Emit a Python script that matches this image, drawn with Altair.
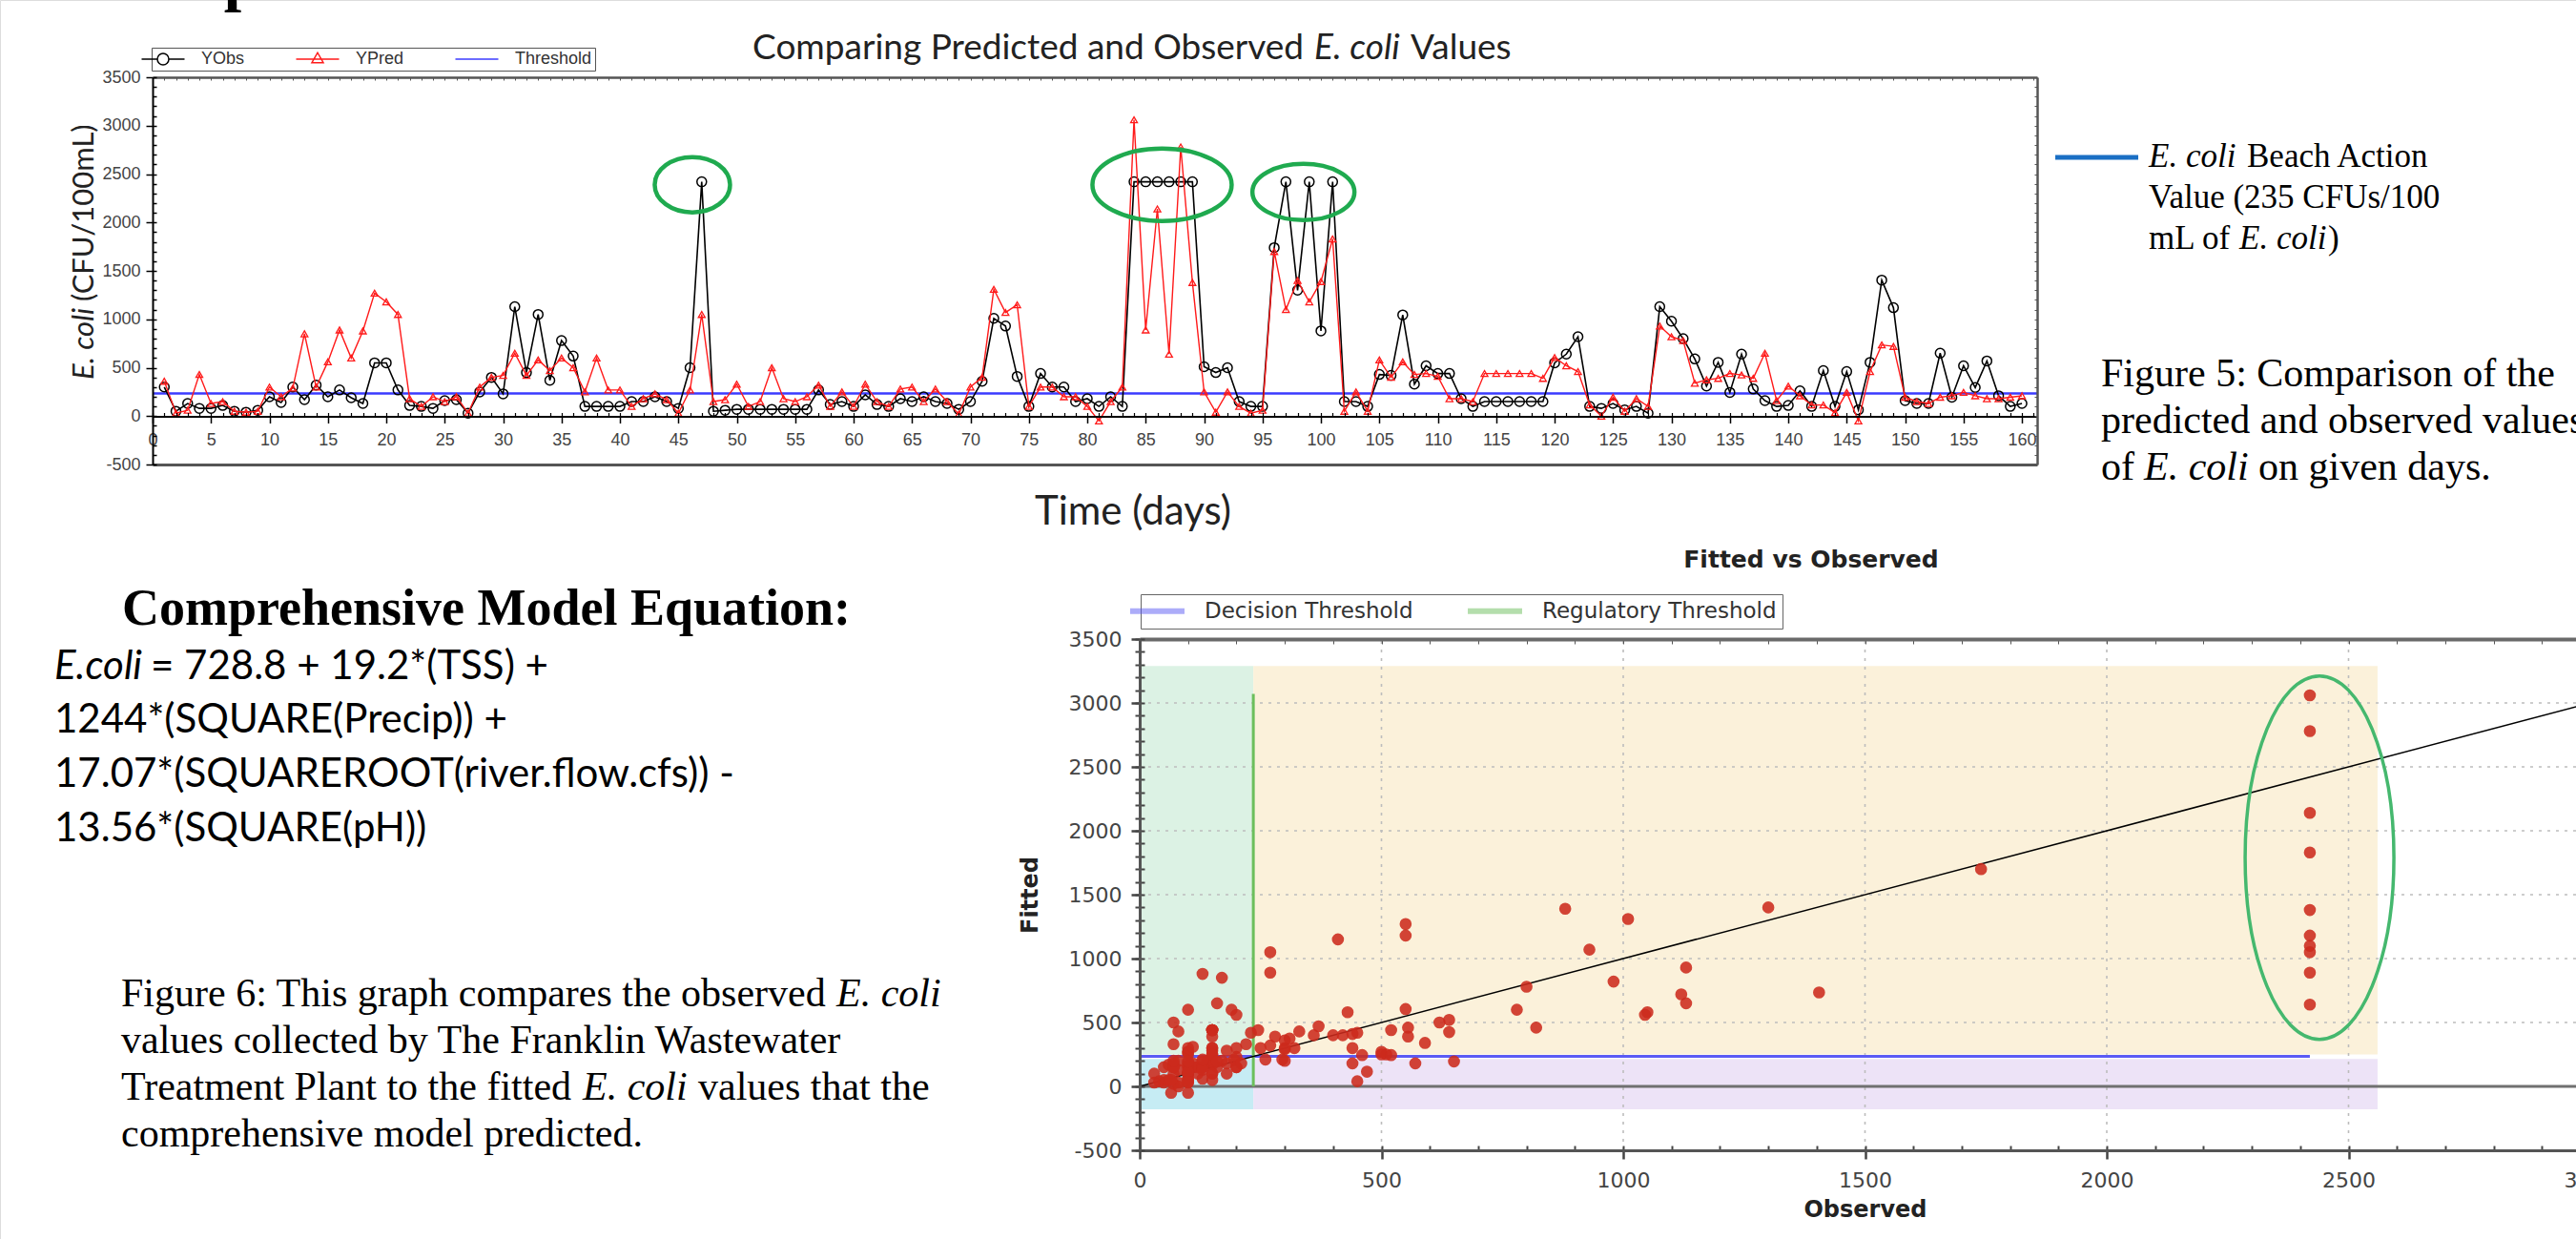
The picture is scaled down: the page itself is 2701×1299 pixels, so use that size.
import altair as alt
import pandas as pd

W, H = 2701, 1299

# ---------------- data ----------------
days = list(range(1, 161))
y_obs = [300, 50, 130, 80, 80, 110, 50, 40, 60, 200,
         140, 300, 170, 320, 200, 270, 190, 130, 550, 550,
         270, 110, 100, 80, 160, 170, 30, 250, 400, 230,
         1130, 450, 1050, 370, 780, 620, 100, 100, 100, 100,
         150, 150, 200, 150, 80, 500, 2420, 50, 60, 70,
         70, 70, 70, 70, 70, 70, 270, 120, 150, 100,
         220, 120, 100, 180, 150, 200, 150, 130, 70, 150,
         360, 1010, 930, 410, 100, 440, 300, 300, 150, 180,
         100, 200, 100, 2420, 2420, 2420, 2420, 2420, 2420, 510,
         450, 500, 150, 100, 100, 1740, 2420, 1300, 2420, 880,
         2420, 150, 150, 100, 430, 420, 1045, 330, 520, 440,
         440, 180, 100, 150, 150, 150, 150, 150, 150, 550,
         640, 820, 100, 80, 130, 65, 100, 30, 1130, 980,
         800, 590, 310, 555, 245, 640, 280, 160, 100, 110,
         260, 100, 470, 100, 460, 65, 555, 1405, 1120, 160,
         130, 130, 650, 195, 520, 295, 570, 210, 100, 130]
y_pred = [360, 30, 60, 430, 130, 150, 50, 40, 50, 300,
          200, 290, 850, 300, 560, 890, 600, 880, 1270, 1180,
          1050, 180, 100, 200, 150, 200, 30, 300, 400, 420,
          650, 420, 580, 470, 600, 500, 250, 600, 270, 270,
          100, 180, 230, 170, 30, 270, 1050, 150, 170, 330,
          100, 150, 500, 180, 150, 200, 320, 100, 250, 100,
          330, 150, 100, 280, 300, 150, 280, 150, 20, 300,
          400, 1310, 1070, 1150, 100, 300, 300, 200, 200, 100,
          -50, 150, 300, 3060, 890, 2140, 640, 2780, 1380, 250,
          40, 250, 100, 30, 60, 1700, 1100, 1400, 1180, 1390,
          1830, 50, 250, 50, 580, 400, 560, 430, 440, 410,
          180, 180, 150, 440, 440, 440, 440, 440, 390, 605,
          520, 460, 115, 0, 195, 50, 180, 100, 930, 820,
          780, 340, 375, 390, 440, 425, 390, 650, 160, 310,
          210, 115, 115, 35, 245, -50, 460, 735, 720, 195,
          150, 130, 195, 210, 245, 210, 180, 180, 195, 210]
action_value = 235
series_names = ["YObs", "YPred", "Threshold"]

top_ring_day = [46.2, 86.4, 98.5]
top_ring_val = [2390, 2390, 2315]
scatter_ring_obs = [2440]
scatter_ring_fit = [1790]

region_names = ["reg_low_hi", "reg_high_hi", "reg_low_lo", "reg_high_lo"]
region_x0 = [0, 235, 0, 235]
region_x1 = [235, 2560, 235, 2560]
region_y0 = [250, 250, -180, -180]
region_y1 = [3290, 3290, 215, 215]

threshold_names = ["Decision Threshold", "Regulatory Threshold"]
threshold_x0 = [0, 235]
threshold_x1 = [2420, 235]
threshold_y0 = [235, 0]
threshold_y1 = [235, 3070]

grid_values = [500, 1000, 1500, 2000, 2500, 3000]
diag_x = [0, 3000]
diag_y = [0, 3000]

top_x_ticks = list(range(0, 161, 5))
top_y_ticks = list(range(-500, 3501, 500))
sc_x_ticks = list(range(0, 3001, 500))
sc_y_ticks = list(range(-500, 3501, 500))

# ---------------- helpers ----------------
TXD, TXR = [0, 161.3], [160, 2136]
TYD, TYR = [-500, 3500], [487, 81]
SXD, SXR = [0, 3000], [1195, 2716]
SYD, SYR = [-500, 3500], [1206, 670]
PLAIN = "'' + datum.value"


def sc(d, r):
    return alt.Scale(domain=d, range=r, nice=False, zero=False)


def ax(orient, pos, **kw):
    if orient == "bottom":
        off = pos - H
    elif orient == "top":
        off = -pos
    elif orient == "left":
        off = -pos
    else:
        off = pos - W
    base = dict(orient=orient, offset=off, title=None, grid=False, labels=False,
                ticks=False, domain=False, zindex=1)
    base.update(kw)
    return alt.Axis(**base)


def ring_path(w, h):
    if w >= h:
        r = h / w
        return f"M-1,0A1,{r:.4f} 0 1,0 1,0A1,{r:.4f} 0 1,0 -1,0Z", w * w
    r = w / h
    return f"M{-r:.4f},0A{r:.4f},1 0 1,0 {r:.4f},0A{r:.4f},1 0 1,0 {-r:.4f},0Z", h * h


def label(s, x, y, size, font, italic=False, bold=False, align="left", angle=None, color="black"):
    kw = dict(text=s, font=font, fontSize=size, align=align, baseline="alphabetic", color=color)
    if italic:
        kw["fontStyle"] = "italic"
    if bold:
        kw["fontWeight"] = "bold"
    if angle is not None:
        kw["angle"] = angle
    return alt.Chart(alt.Data(values=[{"k": 0}])).mark_text(**kw).encode(
        x=alt.value(x), y=alt.value(y))


df = pd.DataFrame({"day": days, "obs": y_obs, "pred": y_pred})
AXF = "Liberation Sans"
SCF = "DejaVu Sans"
layers = []

# ================= scatter: Fitted vs Observed =================
reg_df = pd.DataFrame({"r": region_names, "x0": region_x0, "x1": region_x1,
                       "y0": region_y0, "y1": region_y1})
layers.append(alt.Chart(reg_df).mark_rect(opacity=1).encode(
    x=alt.X("x0:Q", scale=sc(SXD, SXR),
            axis=ax("bottom", 670, ticks=True, domain=True, values=list(range(0, 3001, 100)),
                    tickSize=5, tickColor="#555", domainColor="#6a6a6a", domainWidth=4)),
    x2="x1:Q",
    y=alt.Y("y0:Q", scale=sc(SYD, SYR),
            axis=ax("right", 1195, ticks=True, values=list(range(-500, 3501, 100)),
                    tickSize=5, tickColor="#444", tickWidth=2)),
    y2="y1:Q",
    color=alt.Color("r:N", scale=alt.Scale(domain=region_names,
                                           range=["#dcf2e4", "#fbf1da", "#c6ecf4", "#ede3f7"]),
                    legend=None)))

gdf = pd.DataFrame({"g": grid_values})
layers.append(alt.Chart(gdf).mark_rule(color="#bdbdbd", strokeDash=[3, 6], strokeWidth=1.6).encode(
    x=alt.X("g:Q", scale=sc(SXD, SXR), axis=None),
    y=alt.Y(datum=-500, scale=sc(SYD, SYR), axis=None),
    y2=alt.Y2(datum=3500)))
layers.append(alt.Chart(gdf).mark_rule(color="#bdbdbd", strokeDash=[3, 6], strokeWidth=1.6).encode(
    y=alt.Y("g:Q", scale=sc(SYD, SYR), axis=None),
    x=alt.X(datum=0, scale=sc(SXD, SXR), axis=None),
    x2=alt.X2(datum=3000)))

zdf = pd.DataFrame({"z": [0]})
layers.append(alt.Chart(zdf).mark_rule(color="#707070", strokeWidth=3).encode(
    y=alt.Y("z:Q", scale=sc(SYD, SYR),
            axis=ax("left", 1195, ticks=True, values=list(range(-500, 3501, 100)),
                    tickSize=5, tickColor="#444", tickWidth=2)),
    x=alt.X(datum=0, scale=sc(SXD, SXR),
            axis=ax("top", 1206, ticks=True, values=list(range(0, 3001, 100)),
                    tickSize=5, tickColor="#444", tickWidth=2)),
    x2=alt.X2(datum=3000)))

thr_df = pd.DataFrame({"name": threshold_names, "x0": threshold_x0, "x1": threshold_x1,
                       "y0": threshold_y0, "y1": threshold_y1})
layers.append(alt.Chart(thr_df).mark_rule(strokeWidth=3).encode(
    x=alt.X("x0:Q", scale=sc(SXD, SXR), axis=None), x2="x1:Q",
    y=alt.Y("y0:Q", scale=sc(SYD, SYR), axis=None), y2="y1:Q",
    color=alt.Color("name:N", scale=alt.Scale(domain=threshold_names, range=["#5b5bf5", "#6cbf5c"]),
                    legend=alt.Legend(orient="none", legendX=1196, legendY=623, direction="horizontal",
                                      title=None, symbolType="M-3.5,0L3.5,0", symbolSize=265,
                                      symbolStrokeWidth=6, symbolOpacity=0.5,
                                      labelFont=SCF, labelFontSize=23, labelColor="#333",
                                      labelLimit=500, labelOffset=38, columnPadding=45, padding=6,
                                      strokeColor="#666", fillColor="white"))))

ddf = pd.DataFrame({"x": diag_x, "y": diag_y})
layers.append(alt.Chart(ddf).mark_line(color="black", strokeWidth=1.5).encode(
    x=alt.X("x:Q", scale=sc(SXD, SXR), axis=None),
    y=alt.Y("y:Q", scale=sc(SYD, SYR), axis=None)))

layers.append(alt.Chart(df).mark_circle(color="#cc2a1c", size=160, opacity=0.88).encode(
    x=alt.X("obs:Q", scale=sc(SXD, SXR),
            axis=ax("bottom", 1206, labels=True, ticks=True, domain=True, values=sc_x_ticks,
                    labelExpr=PLAIN,
                    labelFont=SCF, labelFontSize=22, labelColor="#444", labelPadding=12,
                    tickSize=9, tickWidth=2.5, tickColor="#444", domainColor="#555", domainWidth=3,
                    labelFlush=False, labelOverlap=False,
                    title="Observed", titleFont=SCF, titleFontSize=24, titleFontWeight="bold",
                    titleColor="#222", titlePadding=8)),
    y=alt.Y("pred:Q", scale=sc(SYD, SYR),
            axis=ax("left", 1195, labels=True, ticks=True, domain=True, values=sc_y_ticks,
                    labelExpr=PLAIN,
                    labelFont=SCF, labelFontSize=22, labelColor="#444", labelPadding=10,
                    tickSize=9, tickWidth=2.5, tickColor="#444", domainColor="#555", domainWidth=3,
                    labelFlush=False, labelOverlap=False,
                    title="Fitted", titleFont=SCF, titleFontSize=24, titleFontWeight="bold",
                    titleColor="#222", titlePadding=28))))

p, s = ring_path(156, 381)
layers.append(alt.Chart(pd.DataFrame({"o": scatter_ring_obs, "f": scatter_ring_fit}))
              .mark_point(shape=p, size=s, filled=False, color="#45b86e", strokeWidth=3.5, opacity=1)
              .encode(x=alt.X("o:Q", scale=sc(SXD, SXR), axis=None),
                      y=alt.Y("f:Q", scale=sc(SYD, SYR), axis=None)))

# ================= top chart: time series =================
tdf = pd.DataFrame({"v": [action_value]})
layers.append(alt.Chart(tdf).mark_rule(color="#3b3bff", strokeWidth=2.5).encode(
    y=alt.Y("v:Q", scale=sc(TYD, TYR), axis=None),
    x=alt.X(datum=TXD[0], scale=sc(TXD, TXR), axis=None),
    x2=alt.X2(datum=TXD[1])))

layers.append(alt.Chart(df).mark_line(color="black", strokeWidth=1.6).encode(
    x=alt.X("day:Q", scale=sc(TXD, TXR),
            axis=ax("bottom", 436.5, labels=True, ticks=True, domain=True, values=top_x_ticks,
                    labelExpr=PLAIN,
                    labelFont=AXF, labelFontSize=18, labelColor="#444", labelPadding=9,
                    tickSize=7, tickWidth=1.5, tickColor="black", domainColor="black", domainWidth=2,
                    labelFlush=False, labelOverlap=False)),
    y=alt.Y("obs:Q", scale=sc(TYD, TYR),
            axis=ax("left", 160, labels=True, ticks=True, domain=True, values=top_y_ticks,
                    labelExpr=PLAIN,
                    labelFont=AXF, labelFontSize=18, labelColor="#444", labelPadding=6,
                    tickSize=7, tickWidth=1.5, tickColor="black", domainColor="black", domainWidth=2,
                    labelFlush=False, labelOverlap=False))))

layers.append(alt.Chart(df).mark_point(shape="circle", filled=False, color="black", size=100,
                                       strokeWidth=1.5, opacity=1).encode(
    x=alt.X("day:Q", scale=sc(TXD, TXR),
            axis=ax("top", 436.5, ticks=True, values=list(range(0, 162)), tickSize=4,
                    tickColor="black", tickWidth=1.2)),
    y=alt.Y("obs:Q", scale=sc(TYD, TYR),
            axis=ax("right", 160, ticks=True, values=list(range(-500, 3501, 100)), tickSize=4,
                    tickColor="black", tickWidth=1.5))))

layers.append(alt.Chart(df).mark_line(color="#ff1a1a", strokeWidth=1.4).encode(
    x=alt.X("day:Q", scale=sc(TXD, TXR),
            axis=ax("bottom", 81, ticks=True, domain=True, values=list(range(0, 162)), tickSize=3,
                    tickColor="#555", domainColor="#555", domainWidth=2.5)),
    y=alt.Y("pred:Q", scale=sc(TYD, TYR),
            axis=ax("left", 2136, ticks=True, domain=True, values=list(range(-500, 3501, 100)),
                    tickSize=3, tickColor="#555", domainColor="#555", domainWidth=2.5))))

layers.append(alt.Chart(df).mark_point(shape="triangle-up", filled=False, color="#ff1a1a", size=50,
                                       strokeWidth=1.3, opacity=1).encode(
    x=alt.X("day:Q", scale=sc(TXD, TXR),
            axis=ax("bottom", 487, domain=True, domainColor="#555", domainWidth=3)),
    y=alt.Y("pred:Q", scale=sc(TYD, TYR), axis=None)))

for i, (w, h) in enumerate([(79, 58), (146, 76), (107, 59)]):
    p, s = ring_path(w, h)
    layers.append(alt.Chart(pd.DataFrame({"d": [top_ring_day[i]], "v": [top_ring_val[i]]}))
                  .mark_point(shape=p, size=s, filled=False, color="#1faa4f", strokeWidth=4.5, opacity=1)
                  .encode(x=alt.X("d:Q", scale=sc(TXD, TXR), axis=None),
                          y=alt.Y("v:Q", scale=sc(TYD, TYR), axis=None)))

# legend for the time series (line + marker symbols)
leg_paths = ["M-3,0L-0.8,0M0.8,0L3,0M0.8,0A0.8,0.8 0 1,1 -0.8,0A0.8,0.8 0 1,1 0.8,0",
             "M-3,0L3,0M0,-0.9L0.8,0.5L-0.8,0.5Z",
             "M-3,0L3,0"]
top_leg = dict(orient="none", legendX=159, legendY=50, direction="horizontal", title=None,
               symbolSize=225, symbolStrokeWidth=1.5, labelFont=AXF, labelFontSize=18,
               labelColor="#333", labelOffset=31, columnPadding=50, padding=3,
               strokeColor="#555", fillColor="white")
layers.append(alt.Chart(pd.DataFrame({"series": series_names}))
              .mark_point(filled=False, opacity=1, strokeWidth=1.5).encode(
    x=alt.value(-200), y=alt.value(-200),
    color=alt.Color("series:N", scale=alt.Scale(domain=series_names,
                                                range=["black", "#ff1a1a", "#3b3bff"]),
                    legend=alt.Legend(**top_leg)),
    shape=alt.Shape("series:N", scale=alt.Scale(domain=series_names, range=leg_paths),
                    legend=alt.Legend(**top_leg))))

# ================= texts =================
SERIF = "Liberation Serif"
SANS = "Lato"
layers += [
    label("p", 253, -1, 66, SERIF, bold=True, align="center"),
    label("Comparing Predicted and Observed", 1367, 62, 37, SANS, align="right", color="#222"),
    label("E. coli", 1378, 62, 37, SANS, italic=True, color="#222"),
    label("Values", 1479, 62, 37, SANS, color="#222"),
    label("E. coli", 98, 398, 31, SANS, italic=True, angle=270, color="#222"),
    label("(CFU/100mL)", 98, 316, 31, SANS, angle=270, color="#222"),
    label("Time (days)", 1188, 550, 42, SANS, align="center", color="#222"),
    label("E. coli", 2253, 175, 35, SERIF, italic=True),
    label("Beach Action", 2356, 175, 35, SERIF),
    label("Value (235 CFUs/100", 2253, 218, 35, SERIF),
    label("mL of", 2253, 261, 35, SERIF),
    label("E. coli", 2348, 261, 35, SERIF, italic=True),
    label(")", 2441, 261, 35, SERIF),
    label("Figure 5: Comparison of the", 2203, 405, 42, SERIF),
    label("predicted and observed values", 2203, 454, 42, SERIF),
    label("of", 2203, 503, 42, SERIF),
    label("E. coli", 2248, 503, 42, SERIF, italic=True),
    label("on given days.", 2368, 503, 42, SERIF),
    label("Comprehensive Model Equation:", 128, 655, 54, SERIF, bold=True),
    label("E.coli", 57, 712, 42, SANS, italic=True),
    label("= 728.8 + 19.2*(TSS) +", 158, 712, 42, SANS),
    label("1244*(SQUARE(Precip)) +", 57, 768, 42, SANS),
    label("17.07*(SQUAREROOT(river.flow.cfs)) -", 57, 825, 42, SANS),
    label("13.56*(SQUARE(pH))", 57, 882, 42, SANS),
    label("Figure 6: This graph compares the observed", 127, 1055, 42, SERIF),
    label("E. coli", 877, 1055, 42, SERIF, italic=True),
    label("values collected by The Franklin Wastewater", 127, 1104, 42, SERIF),
    label("Treatment Plant to the fitted", 127, 1153, 42, SERIF),
    label("E. coli", 611, 1153, 42, SERIF, italic=True),
    label("values that the", 732, 1153, 42, SERIF),
    label("comprehensive model predicted.", 127, 1202, 42, SERIF),
    label("Fitted vs Observed", 1899, 595, 25, SCF, bold=True, align="center", color="#222"),
]

# blue legend stroke beside the beach-action note
layers.append(alt.Chart(alt.Data(values=[{"k": 0}])).mark_rule(color="#1a6fc4", strokeWidth=5).encode(
    x=alt.value(2155), x2=alt.value(2242), y=alt.value(165)))

chart = (alt.layer(*layers)
         .resolve_scale(x="independent", y="independent", color="independent", shape="independent")
         .properties(width=W, height=H, padding=0, autosize=alt.AutoSizeParams(type="none"))
         .configure_view(strokeWidth=0)
         .configure(background="white"))

chart.save("out.html", embed_options={"renderer": "svg", "actions": False})
